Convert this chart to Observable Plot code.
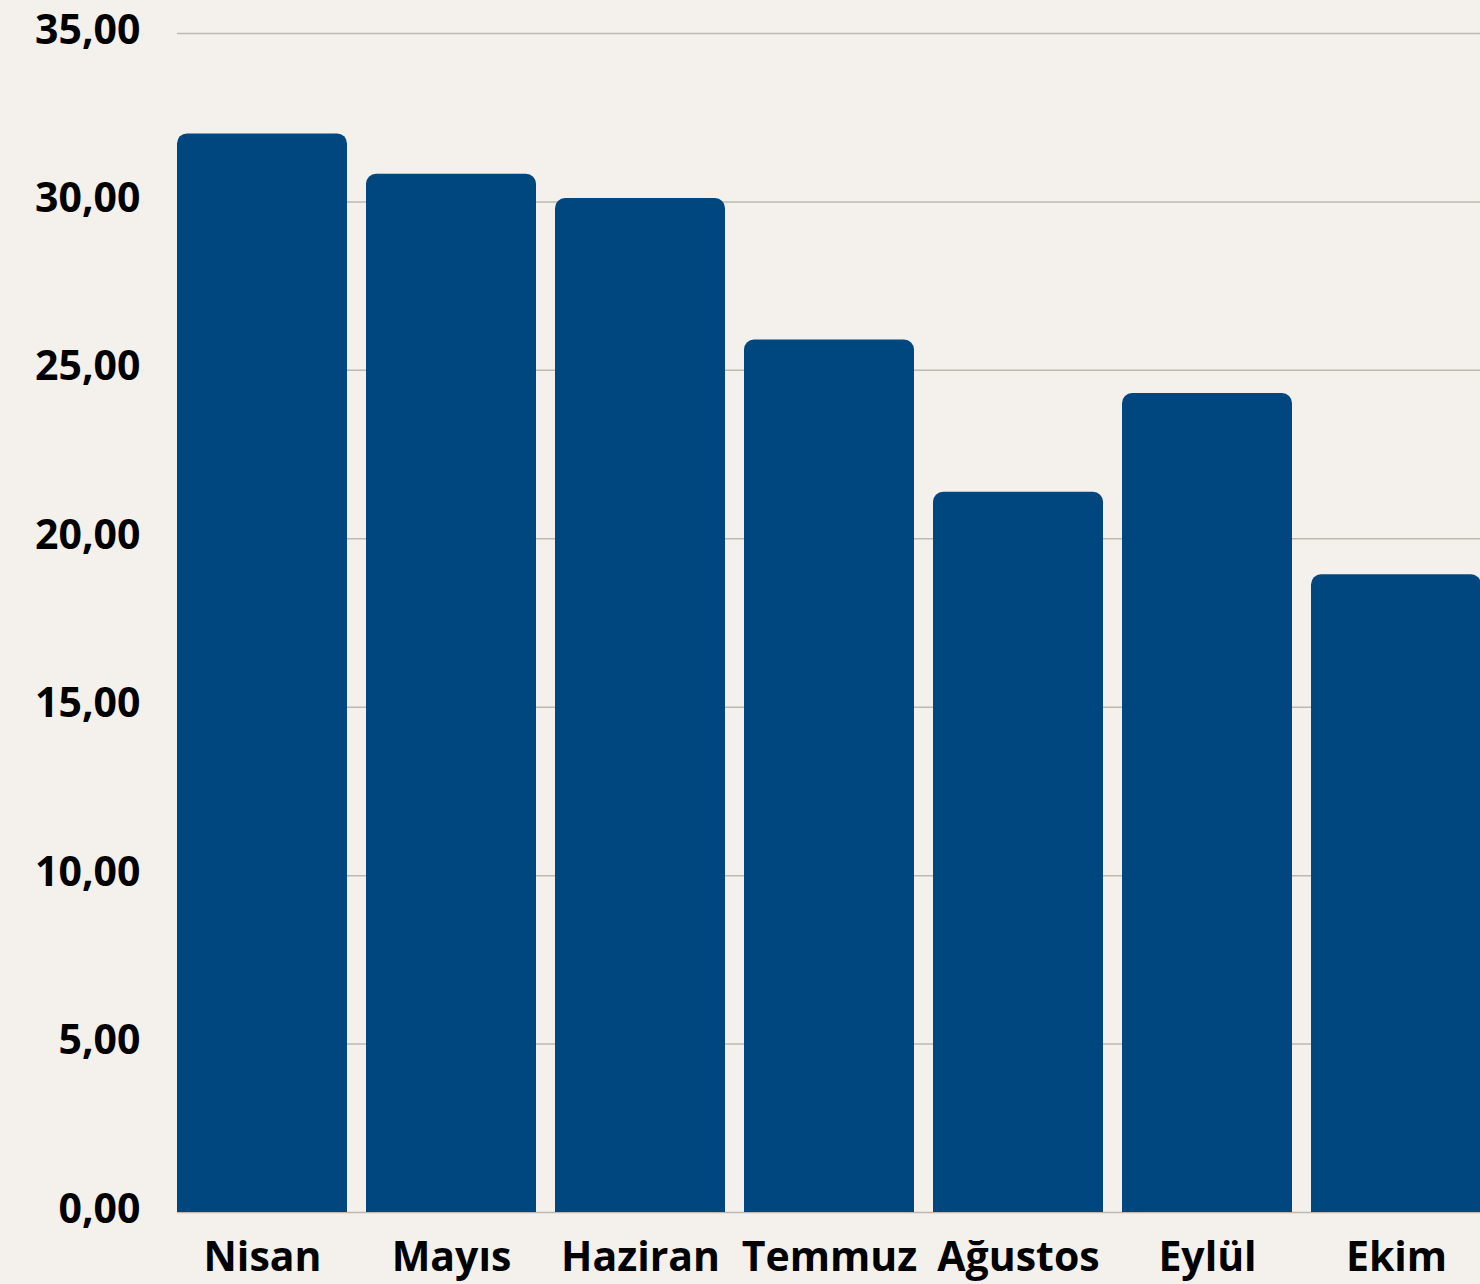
<!DOCTYPE html>
<html>
<head>
<meta charset="utf-8">
<script src="https://cdn.jsdelivr.net/npm/d3@7"></script>
<script src="https://cdn.jsdelivr.net/npm/@observablehq/plot@0.6"></script>
<style>
  html, body { margin: 0; padding: 0; background: #f4f1ec; }
  #chart svg { display: block; }
</style>
</head>
<body>
<div id="chart"></div>
<script>
const months = ["Nisan", "Mayıs", "Haziran", "Temmuz", "Ağustos", "Eylül", "Ekim"];
const values = [32.02, 30.82, 30.10, 25.90, 21.38, 24.31, 18.93];
const yTicks = [0, 5, 10, 15, 20, 25, 30, 35];

const data = months.map((m, i) => ({month: m, value: values[i]}));
const fmt = d => d.toFixed(2).replace(".", ",");
const barColor = "#00467f";

const chart = Plot.plot({
  width: 1480,
  height: 1284,
  marginLeft: 177,
  marginRight: 0,
  marginTop: 33,
  marginBottom: 72,
  style: {
    background: "#f4f1ec",
    fontFamily: "'Open Sans', sans-serif",
    fontWeight: "bold",
    fontSize: "41px",
    color: "#000"
  },
  x: {domain: months, paddingInner: 19 / 189, paddingOuter: 0, align: 0, round: false, range: [177, 1481], label: null},
  y: {domain: [0, 35], label: null},
  marks: [
    Plot.ruleY(yTicks, {stroke: "#bdb8b0", strokeWidth: 1.5}),
    Plot.barY(data, {x: "month", y: "value", fill: barColor, rx: 10, ry: 10}),
    Plot.barY(data, {x: "month", y1: 0, y2: d => Math.min(1, d.value), fill: barColor}),
    Plot.axisY({ticks: yTicks, tickFormat: fmt, tickSize: 0, tickPadding: 37, fontSize: 41, fontWeight: "bold", dy: -3}),
    Plot.axisX({tickSize: 0, tickPadding: 25, fontSize: 41, fontWeight: "bold", dy: 4})
  ]
});
document.getElementById("chart").appendChild(chart);
</script>
</body>
</html>
